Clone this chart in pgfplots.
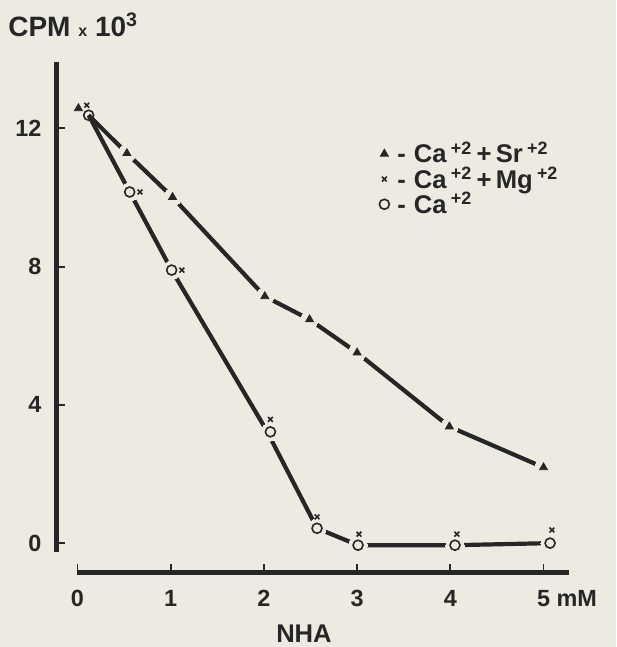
\documentclass[border=0pt]{standalone}
\usepackage{fontspec}
\setmainfont{Liberation Sans}
\usepackage{pgfplots}
\pgfplotsset{compat=1.18}
\definecolor{ink}{HTML}{262626}
\definecolor{bgpaper}{HTML}{EDEAE2}
\begin{document}
\begin{tikzpicture}
\fill[bgpaper] (-28.35pt,-37.25pt) rectangle (279.65pt,286.25pt);
\begin{axis}[
  scale only axis, width=256pt, height=255.4pt,
  at={(0pt,0pt)}, anchor=south west,
  xmin=-0.223, xmax=5.27, ymin=-0.85, ymax=13.93,
  axis x line*=bottom, axis y line*=left,
  axis line style={draw=none},
  clip=false,
  xtick={0,1,2,3,4,5}, xticklabels={0,1,2,3,4,5\rlap{ mM}},
  ytick={0,4,8,12}, yticklabels={0,4,8,12},
  tick align=inside, major tick length=4pt,
  tick style={ink, line width=0.9pt},
  xticklabel style={anchor=north, inner sep=0pt, yshift=-8.5pt, font=\fontsize{11.7}{12}\selectfont\bfseries, text=ink},
  yticklabel style={anchor=east, inner sep=0pt, xshift=-7.5pt, font=\fontsize{11.7}{12}\selectfont\bfseries, text=ink},
  legend style={at={(axis cs:3.17,11.8)}, anchor=north west, draw=none, fill=none,
    font=\fontsize{12.8}{13}\selectfont\bfseries, text=ink, row sep=-1.5pt,
    nodes={inner sep=1pt}},
  legend cell align=left,
  legend image code/.code={\draw[#1] plot coordinates {(0.1cm,0cm)};},
  halo/.style={only marks, mark=*, forget plot, mark options={draw=bgpaper, fill=bgpaper, line width=0pt}},
]
% axis lines
\draw[ink, line width=2.5pt] (axis cs:-0.223,-0.25) -- (axis cs:-0.223,13.93);
\draw[ink, line width=2.1pt] (axis cs:-0.01,-0.85) -- (axis cs:5.27,-0.85);
% connecting lines
\addplot[ink, line width=2.1pt, line join=round, forget plot] coordinates {
 (0.12,12.38) (0.53,11.28) (1.02,10.01) (2.01,7.14) (2.49,6.47) (3.0,5.51) (3.99,3.37) (5.0,2.19)};
\addplot[ink, line width=2.1pt, line join=round, forget plot] coordinates {
 (0.12,12.38) (0.56,10.16) (1.01,7.9) (2.02,3.3) (2.57,0.43) (3.01,-0.06) (4.05,-0.06) (5.07,0.0)};
% gaps round the symbols
\addplot[halo, mark size=4.4pt] coordinates {
 (0.53,11.28) (1.02,10.01) (2.01,7.14) (2.49,6.47) (3.0,5.51) (3.99,3.37) (5.0,2.19)};
\addplot[halo, mark size=4.6pt] coordinates {
 (0.56,10.16) (1.01,7.9) (2.07,3.22) (2.57,0.43) (3.01,-0.06) (4.05,-0.06) (5.07,0.0)};
% symbols
\addplot[only marks, mark=triangle*, mark size=2.3pt, color=ink] coordinates {
 (0.01,12.58) (0.53,11.28) (1.02,10.01) (2.01,7.14) (2.49,6.47) (3.0,5.51) (3.99,3.37) (5.0,2.19)};
\addlegendentry{\hspace{3pt}-\hspace{4pt}Ca\,\textsuperscript{+2}\,+\,Sr\,\textsuperscript{+2}}
\addplot[only marks, mark=x, mark size=1.7pt, color=ink, mark options={line width=0.8pt}] coordinates {
 (0.10,12.67) (0.67,10.16) (1.12,7.9) (2.07,3.58) (2.57,0.76) (3.02,0.26) (4.07,0.26) (5.09,0.38)};
\addlegendentry{\hspace{3pt}-\hspace{4pt}Ca\,\textsuperscript{+2}\,+\,Mg\,\textsuperscript{+2}}
\addplot[only marks, mark=o, mark size=2.5pt, color=ink, mark options={line width=0.8pt}] coordinates {
 (0.12,12.38) (0.56,10.16) (1.01,7.9) (2.07,3.22) (2.57,0.43) (3.01,-0.06) (4.05,-0.06) (5.07,0.0)};
\addlegendentry{\hspace{3pt}-\hspace{4pt}Ca\,\textsuperscript{+2}}
% titles
\node[anchor=west, inner sep=0pt, text=ink, font=\fontsize{14}{14}\selectfont\bfseries] at (axis cs:-0.746,14.99)
  {CPM {\fontsize{8}{8}\selectfont x} 10\textsuperscript{3}};
\node[inner sep=0pt, text=ink, font=\fontsize{12.8}{13}\selectfont\bfseries] at (axis cs:2.43,-2.63) {NHA};
\end{axis}
\pgfresetboundingbox
\useasboundingbox (-28.35pt,-37.25pt) rectangle (279.65pt,286.25pt);
\end{tikzpicture}
\end{document}
